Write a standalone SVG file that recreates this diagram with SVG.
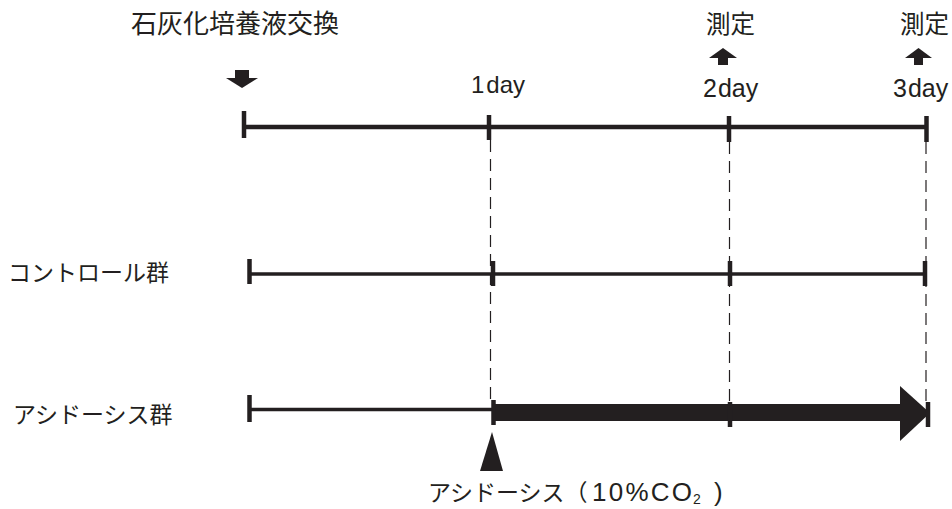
<svg xmlns="http://www.w3.org/2000/svg" width="952" height="509" viewBox="0 0 952 509">
<defs>
<style>
.jp{font-family:"Noto Sans CJK JP","Noto Sans",sans-serif;fill:#231f20}
.lat{font-family:"Liberation Sans",Arial,sans-serif;fill:#231f20}
.ln{stroke:#231f20;fill:none;stroke-linecap:butt}
.tk{stroke:#231f20;stroke-width:4.5}
.dash{stroke:#231f20;stroke-width:1.2;stroke-dasharray:12 7;fill:none}
.fill{fill:#231f20}
</style>
</defs>
<rect width="952" height="509" fill="#ffffff"/>

<g id="title">
<text class="jp" x="131" y="33" font-size="26">石灰化培養液交換</text>
<g id="down-arrow">
<rect class="fill" x="235" y="70" width="14" height="9"/>
<polygon class="fill" points="226,78 258,78 242,88"/>
</g>
</g>

<g id="measure-2">
<text class="jp" x="706" y="33" font-size="24.5">測定</text>
<polygon class="fill" points="709,58 737,58 723,48"/>
<rect class="fill" x="718" y="57" width="10" height="8"/>
</g>
<g id="measure-3">
<text class="jp" x="900" y="33" font-size="24.5">測定</text>
<polygon class="fill" points="905,58 932,58 918.5,48"/>
<rect class="fill" x="914" y="57" width="9" height="8"/>
</g>

<g id="day-labels">
<text class="lat" x="471" y="93" font-size="24">1<tspan dx="2">day</tspan></text>
<text class="lat" x="703" y="97" font-size="25">2<tspan dx="1">day</tspan></text>
<text class="lat" x="893" y="97" font-size="25">3<tspan dx="1">day</tspan></text>
</g>

<g id="connectors">
<line class="dash" x1="490.5" y1="140" x2="490.5" y2="400"/>
<line class="dash" x1="729.5" y1="142" x2="729.5" y2="402"/>
<line class="dash" x1="926" y1="142" x2="926" y2="402"/>
</g>

<g id="timeline-top">
<line class="ln" x1="244" y1="127" x2="926" y2="127" stroke-width="4.5"/>
<line class="tk" x1="244" y1="111" x2="244" y2="138"/>
<line class="tk" x1="489" y1="115" x2="489" y2="140"/>
<line class="tk" x1="729" y1="116" x2="729" y2="142"/>
<line class="tk" x1="926.5" y1="116" x2="926.5" y2="142"/>
</g>

<g id="control">
<text class="jp" x="8" y="281" font-size="23">コントロール群</text>
<line class="ln" x1="249" y1="274" x2="925" y2="274" stroke-width="3.5"/>
<line class="tk" x1="249.5" y1="259" x2="249.5" y2="284"/>
<line class="tk" x1="493" y1="261" x2="493" y2="286"/>
<line class="tk" x1="730" y1="261" x2="730" y2="286"/>
<line class="tk" x1="925" y1="261" x2="925" y2="286"/>
</g>

<g id="acidosis">
<text class="jp" x="13" y="423" font-size="23">アシドーシス群</text>
<line class="ln" x1="249" y1="409.5" x2="494" y2="409.5" stroke-width="3.5"/>
<rect class="fill" x="494" y="404" width="408" height="17"/>
<polygon class="fill" points="900,386 930,413 900,441"/>
<line class="tk" x1="249.5" y1="395" x2="249.5" y2="422"/>
<line class="tk" x1="493.5" y1="400" x2="493.5" y2="425"/>
<line class="tk" x1="730" y1="402" x2="730" y2="427"/>
<line class="tk" x1="928" y1="402" x2="928" y2="427"/>
</g>

<g id="acidosis-start">
<polygon class="fill" points="492,432 480,471 503,471"/>
<text class="jp" x="428" y="501" font-size="23">アシドーシス（</text>
<text class="lat" x="592" y="501" font-size="26" textLength="100" lengthAdjust="spacing">10%CO</text>
<text class="lat" x="693" y="504" font-size="14">2</text>
<text class="lat" x="714" y="501" font-size="26">)</text>
</g>
</svg>
